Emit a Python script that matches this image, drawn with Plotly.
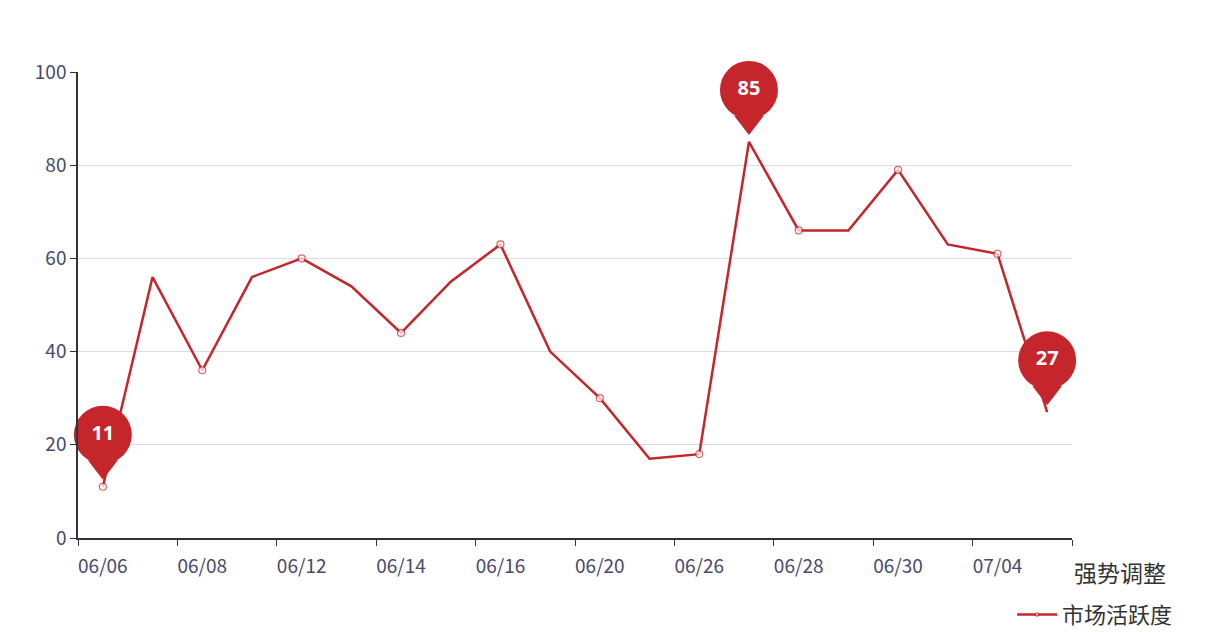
import plotly.graph_objects as go

dates = ["06/06","06/07","06/08","06/09","06/12","06/13","06/14","06/15","06/16","06/19",
         "06/20","06/21","06/26","06/27","06/28","06/29","06/30","07/03","07/04","07/05"]
values = [11,56,36,56,60,54,44,55,63,40,30,17,18,85,66,66,79,63,61,27]
pins = [("06/06",11),("06/27",85),("07/05",27)]
red = "#c4262b"

sizes = [7 if i % 2 == 0 else 0 for i in range(len(values))]
fig = go.Figure()
fig.add_trace(go.Scatter(x=dates, y=values, mode="lines+markers", name="市场活跃度",
    line=dict(color=red, width=2.5), cliponaxis=False,
    marker=dict(symbol="circle", size=sizes, color="white", line=dict(color=red, width=1.2))))
px_per_unit = 466/100
for d, v in pins:
    fig.add_trace(go.Scatter(x=[d], y=[v + 20/px_per_unit], mode="markers", showlegend=False,
        cliponaxis=False,
        marker=dict(symbol="triangle-down", size=26, color=red, line=dict(width=0)), hoverinfo="skip"))
    fig.add_trace(go.Scatter(x=[d], y=[v + 52/px_per_unit], mode="markers+text", showlegend=False,
        cliponaxis=False, text=["<b>"+str(v)+"</b>"],
        textfont=dict(color="white", size=20, family="Noto Sans"),
        textposition="middle center",
        marker=dict(symbol="circle", size=58, color=red, line=dict(width=0)), hoverinfo="skip"))

fig.add_annotation(xref="paper", yref="paper", x=1.0, y=-0.072, xanchor="left", yanchor="middle",
    text="强势调整", showarrow=False, font=dict(size=23, color="#333333", family="Noto Sans CJK SC"))

fig.update_layout(
    width=1232, height=632, paper_bgcolor="white", plot_bgcolor="white",
    margin=dict(l=70, r=168, t=64, b=102, autoexpand=False),
    font=dict(family="Noto Sans CJK SC", color="#6E7079"),
    xaxis=dict(type="category", categoryorder="array", categoryarray=dates,
        range=[-0.5, 19.5], tickson="boundaries", dtick=2, ticks="outside", ticklen=6,
        tickangle=0, automargin=False, ticklabelstandoff=10,
        tickcolor="#333", showline=True, linecolor="#333", linewidth=1.5, showgrid=False,
        tickfont=dict(size=19, color="#4a4a6a")),
    yaxis=dict(range=[0, 100], dtick=20, showline=True, linecolor="#333", linewidth=1.5,
        gridcolor="#D8DCE8", ticks="outside", ticklen=6, tickcolor="#333", zeroline=False,
        automargin=False, tickfont=dict(size=19, color="#4a4a6a")),
    legend=dict(xref="container", yref="container", x=0.815, y=0.04, xanchor="left",
        yanchor="middle", orientation="h", itemwidth=40,
        font=dict(size=22, color="#333"), bgcolor="rgba(0,0,0,0)"),
)
fig.write_html("out.html")
